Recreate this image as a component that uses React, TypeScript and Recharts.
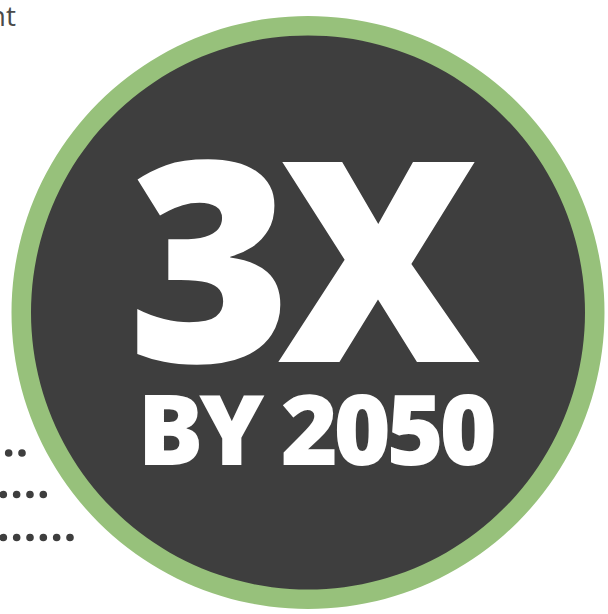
import React from "react";
import { PieChart, Pie, Cell, LineChart, Line, XAxis, YAxis } from "recharts";

const W = 608;
const H = 614;

// headline figures
const headline = "3X";
const subline = "BY 2050";
const cutText = "nt";

// circle: outer ring and inner disc
const ring = [{ name: "ring", value: 1 }];
const disc = [{ name: "disc", value: 1 }];

// dotted leader rows (row y, right end x)
const dotRowY = [453, 494.5, 537.5];
const dotRowEnd = [22, 43.3, 70];

const GREEN = "#97c17b";
const DARK = "#3e3e3e";

export default function App() {
  return (
    <div style={{ position: "absolute", left: 0, top: 0, width: W, height: H, background: "#fff" }}>
      <div style={{ position: "absolute", left: 0, top: 0 }}>
        <PieChart width={W} height={H} margin={{ top: 0, right: 0, bottom: 0, left: 0 }}>
          <Pie
            data={ring}
            dataKey="value"
            cx={308}
            cy={312.5}
            innerRadius={276}
            outerRadius={296.5}
            stroke="none"
            isAnimationActive={false}
          >
            <Cell fill={GREEN} />
          </Pie>
          <Pie
            data={disc}
            dataKey="value"
            cx={308}
            cy={312.5}
            innerRadius={0}
            outerRadius={277}
            stroke="none"
            isAnimationActive={false}
          >
            <Cell fill={DARK} />
          </Pie>
        </PieChart>
      </div>
      <div style={{ position: "absolute", left: 0, top: 0 }}>
        <LineChart width={W} height={H} margin={{ top: 0, right: 0, bottom: 0, left: 0 }}>
          <XAxis type="number" dataKey="x" domain={[0, W]} allowDataOverflow hide height={0} />
          <YAxis type="number" dataKey="y" domain={[0, H]} reversed allowDataOverflow hide width={0} />
          {dotRowY.map((y, i) => (
            <Line
              key={i}
              data={[
                { x: dotRowEnd[i], y },
                { x: -20, y },
              ]}
              dataKey="y"
              stroke={DARK}
              strokeWidth={7.6}
              strokeLinecap="round"
              strokeDasharray="0 13.33"
              dot={false}
              activeDot={false}
              isAnimationActive={false}
            />
          ))}
          <text
            x={16}
            y={26}
            textAnchor="end"
            fill="#4a4a4a"
            style={{ fontFamily: "'Open Sans', sans-serif", fontSize: 28 }}
          >
            {cutText}
          </text>
          <text
            x={297}
            y={362}
            textAnchor="middle"
            fill="#ffffff"
            style={{ fontFamily: "'Open Sans', sans-serif", fontSize: 280, fontWeight: 800, letterSpacing: -14 }}
          >
            {headline}
          </text>
          <text
            x={315}
            y={465}
            textAnchor="middle"
            fill="#ffffff"
            style={{ fontFamily: "'Open Sans', sans-serif", fontSize: 98, fontWeight: 800, letterSpacing: -4.5 }}
          >
            {subline}
          </text>
        </LineChart>
      </div>
    </div>
  );
}
